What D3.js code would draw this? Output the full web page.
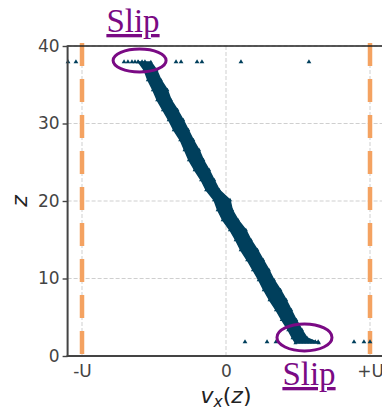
<!DOCTYPE html>
<html>
<head>
<meta charset="utf-8">
<script src="https://cdn.jsdelivr.net/npm/d3@7"></script>
<style>
  html, body { margin: 0; padding: 0; background: #fff; }
  svg { display: block; }
</style>
</head>
<body>
<svg id="chart" width="382" height="410"></svg>
<script>
// ---------------- data ----------------
const xTicks = [-1, 0, 1];
const xTickLabels = ["-U", "0", "+U"];
const yTicks = [0, 10, 20, 30, 40];
const wallVx = [-1, 1];

// band of particle velocities (left / right edge of dense cloud at each height z)
const bandZ = [37.94, 36.90, 35.61, 34.32, 33.03, 31.74, 30.45, 29.16, 27.87, 26.58, 25.29, 24.00, 22.71, 21.42, 20.13, 18.84, 17.55, 16.26, 14.97, 13.68, 12.39, 11.10, 9.81, 8.52, 7.23, 5.94, 4.65, 3.35, 2.32, 1.68];
const bandLeft = [-0.608, -0.568, -0.543, -0.508, -0.478, -0.438, -0.398, -0.363, -0.318, -0.288, -0.258, -0.218, -0.173, -0.138, -0.083, -0.058, -0.023, 0.027, 0.067, 0.102, 0.147, 0.187, 0.227, 0.262, 0.302, 0.347, 0.387, 0.432, 0.462, 0.482];
const bandRight = [-0.522, -0.482, -0.452, -0.407, -0.382, -0.337, -0.297, -0.262, -0.227, -0.187, -0.157, -0.117, -0.082, -0.047, 0.028, 0.043, 0.083, 0.138, 0.173, 0.218, 0.258, 0.298, 0.333, 0.378, 0.418, 0.453, 0.488, 0.528, 0.563, 0.645];

// isolated slipping particles near the walls
const slipTopZ = 37.94;
const slipTopVx = [-1.097, -1.042, -0.708, -0.681, -0.653, -0.632, -0.611, -0.583, -0.563, -0.347, -0.312, -0.201, -0.167, 0.104, 0.576];
const slipBottomZ = 1.81;
const slipBottomVx = [0.132, 0.285, 0.347, 0.50, 0.52, 0.54, 0.56, 0.58, 0.60, 0.62, 0.64, 0.889, 0.958, 1.0];

// annotations (data units)
const annotText = ["Slip", "Slip"];
const annotVx = [-0.60, 0.545];
const annotZ = [38.13, 2.39];
const annotRVx = [0.184, 0.191];
const annotRZ = [1.48, 1.74];

// ---------------- layout ----------------
const svg = d3.select("#chart");
const x = d3.scaleLinear().domain([-1.1, 1.1]).range([67.6, 384.4]);
const y = d3.scaleLinear().domain([0, 40]).range([356, 46]);

const teal = "#003f5c";
const orange = "#f4a261";
const purple = "#7a0a84";
const tickColor = "#444";

// grid
const grid = svg.append("g");
grid.selectAll("line.gy").data(yTicks).join("line")
  .attr("x1", x(-1.1)).attr("x2", x(1.1))
  .attr("y1", d => y(d)).attr("y2", d => y(d))
  .attr("stroke", "#cfcfcf").attr("stroke-width", 1).attr("stroke-dasharray", "4,2");
grid.selectAll("line.gx").data(xTicks).join("line")
  .attr("x1", d => x(d)).attr("x2", d => x(d))
  .attr("y1", y(0)).attr("y2", y(40))
  .attr("stroke", "#cfcfcf").attr("stroke-width", 1).attr("stroke-dasharray", "4,2");

// walls
svg.append("g").selectAll("line").data(wallVx).join("line")
  .attr("x1", d => x(d)).attr("x2", d => x(d))
  .attr("y1", 43).attr("y2", 358)
  .attr("stroke", orange).attr("stroke-width", 4.5)
  .attr("stroke-dasharray", "23,13");

// band
const band = bandZ.map((z, i) => ({ z, l: bandLeft[i], r: bandRight[i] }));
const area = d3.area().y(d => y(d.z)).x0(d => x(d.l)).x1(d => x(d.r)).curve(d3.curveLinear);
svg.append("path").datum(band).attr("d", area).attr("fill", teal)
  .attr("stroke", teal).attr("stroke-width", 1.5).attr("stroke-linejoin", "round");

const tri = d3.symbol().type(d3.symbolTriangle).size(10);
const edgePts = [];
band.forEach(d => { edgePts.push({ vx: d.l, z: d.z }); edgePts.push({ vx: d.r, z: d.z }); });
const slipPts = slipTopVx.map(v => ({ vx: v, z: slipTopZ }))
  .concat(slipBottomVx.map(v => ({ vx: v, z: slipBottomZ })));
svg.append("g").selectAll("path").data(slipPts).join("path")
  .attr("d", tri)
  .attr("transform", d => `translate(${x(d.vx)},${y(d.z)})`)
  .attr("fill", teal);
svg.append("g").selectAll("path").data(edgePts).join("path")
  .attr("d", d3.symbol().type(d3.symbolTriangle).size(7))
  .attr("transform", d => `translate(${x(d.vx)},${y(d.z)})`)
  .attr("fill", teal);

// spines
svg.append("line").attr("x1", x(-1.1)).attr("x2", 384.4).attr("y1", 46).attr("y2", 46)
  .attr("stroke", "#222").attr("stroke-width", 1.6);
svg.append("line").attr("x1", x(-1.1)).attr("x2", x(-1.1)).attr("y1", 45.2).attr("y2", 357)
  .attr("stroke", tickColor).attr("stroke-width", 2);
svg.append("line").attr("x1", x(-1.1) - 1).attr("x2", 384.4).attr("y1", 356).attr("y2", 356)
  .attr("stroke", tickColor).attr("stroke-width", 2);

// axes
const yAxis = d3.axisLeft(y).tickValues(yTicks).tickSize(5).tickPadding(3);
const gy = svg.append("g").attr("transform", `translate(${x(-1.1)},0)`).call(yAxis);
gy.select(".domain").remove();
gy.selectAll(".tick line").attr("stroke", tickColor).attr("stroke-width", 1.4);
gy.selectAll(".tick text").attr("fill", tickColor)
  .style("font-family", "DejaVu Sans").style("font-size", "17px");

const xAxis = d3.axisBottom(x).tickValues(xTicks).tickSize(0).tickPadding(9)
  .tickFormat((d, i) => xTickLabels[i]);
const gx = svg.append("g").attr("transform", `translate(0,356)`).call(xAxis);
gx.select(".domain").remove();
gx.selectAll(".tick text").attr("fill", tickColor)
  .style("font-family", "DejaVu Sans").style("font-size", "17px");

// axis labels
const xl = svg.append("text").attr("x", x(0)).attr("y", 403)
  .attr("text-anchor", "middle")
  .style("font-family", "DejaVu Sans").style("font-size", "22px").attr("fill", "#222");
xl.append("tspan").style("font-style", "italic").text("v");
xl.append("tspan").style("font-style", "italic").style("font-size", "15.5px").attr("dy", 4).text("x");
xl.append("tspan").attr("dy", -4).text("(");
xl.append("tspan").style("font-style", "italic").text("z");
xl.append("tspan").text(")");

svg.append("text").attr("transform", `translate(27,${y(20)}) rotate(-90)`)
  .attr("text-anchor", "middle")
  .style("font-family", "DejaVu Sans").style("font-size", "22px").style("font-style", "italic")
  .attr("fill", "#222").text("z");

// annotations
svg.append("g").selectAll("ellipse").data(annotVx).join("ellipse")
  .attr("cx", d => x(d))
  .attr("cy", (d, i) => y(annotZ[i]))
  .attr("rx", (d, i) => x(annotRVx[i]) - x(0))
  .attr("ry", (d, i) => y(0) - y(annotRZ[i]))
  .attr("fill", "none").attr("stroke", purple).attr("stroke-width", 3);

const annotPos = [[133, 32], [309, 385]];
svg.append("g").selectAll("text").data(annotText).join("text")
  .attr("x", (d, i) => annotPos[i][0]).attr("y", (d, i) => annotPos[i][1])
  .attr("text-anchor", "middle")
  .style("font-family", "Liberation Serif").style("font-size", "33px")
  .style("text-decoration", "underline")
  .attr("fill", purple).text(d => d);
</script>
</body>
</html>
